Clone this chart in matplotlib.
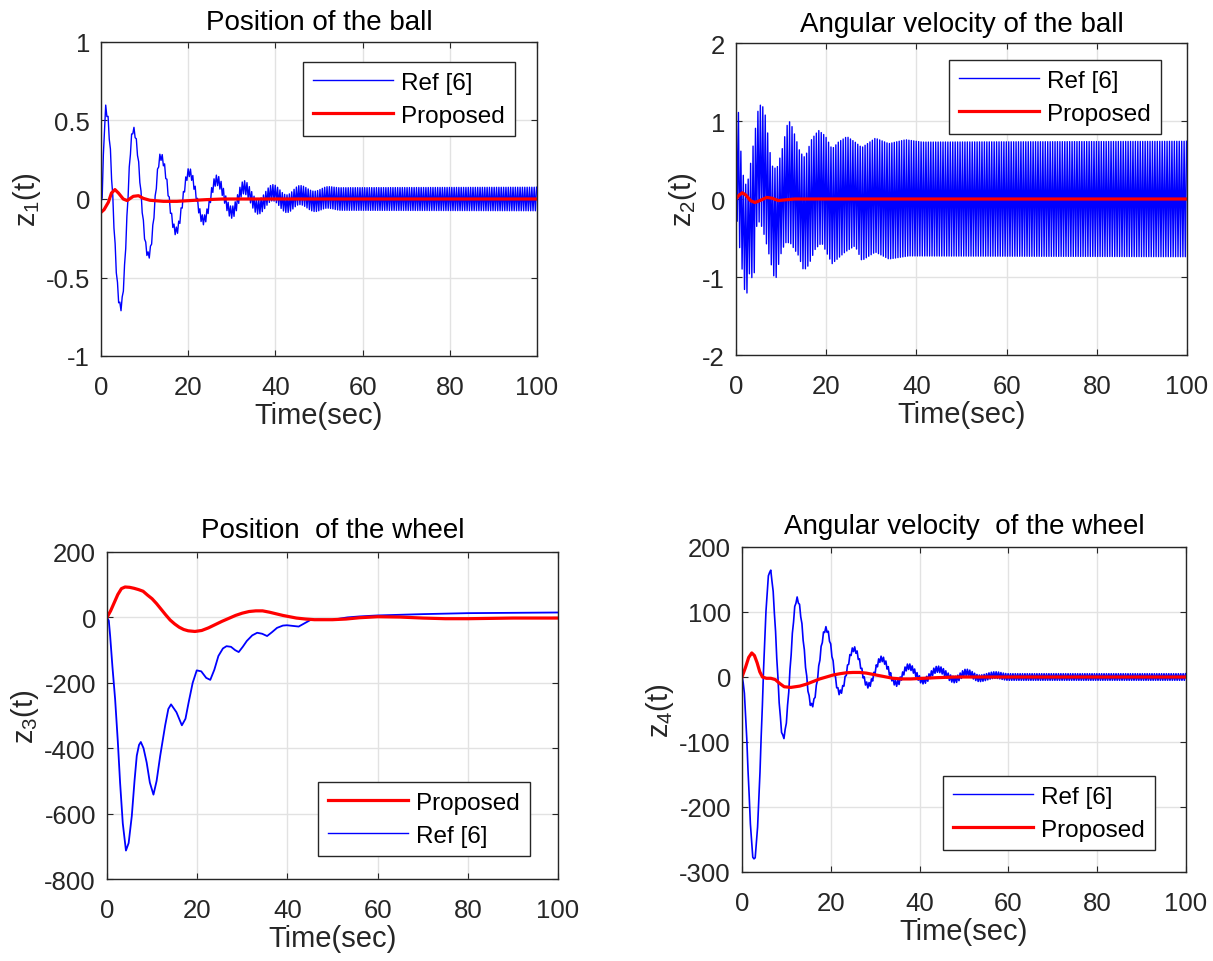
import numpy as np
import matplotlib
matplotlib.use("Agg")
import matplotlib.pyplot as plt
from matplotlib.lines import Line2D

# ---------------- data ----------------
x_ticks = [0, 20, 40, 60, 80, 100]
x_ticklabels = ["0", "20", "40", "60", "80", "100"]

# z1 : position of the ball
z1_yticks = [-1, -0.5, 0, 0.5, 1]
z1_yticklabels = ["-1", "-0.5", "0", "0.5", "1"]
z1_ref_ext_t = [0, 1.1, 4.5, 7.4, 10.9, 13.7, 17.2, 20.2, 23.5, 26.5, 30.0, 32.8, 36.0, 39.4, 42.6, 45.6, 49.0, 52.0, 55.0, 100.0]
z1_ref_ext_v = [-0.05, 0.57, -0.69, 0.44, -0.36, 0.27, -0.205, 0.17, -0.135, 0.12, -0.085, 0.075, -0.05, 0.04, -0.03, 0.025, -0.015, 0.01, 0.0, 0.0]
z1_ref_rip_t = [0, 8, 16, 25, 35, 45, 55, 100]
z1_ref_rip_a = [0.03, 0.02, 0.025, 0.03, 0.045, 0.06, 0.072, 0.075]
z1_prop_t = [0, 0.7, 1.7, 2.4, 3.2, 4.0, 5.1, 6.0, 7.4, 8.6, 9.7, 11.2, 14.3, 17.4, 20.4, 24.2, 28.0, 100.0]
z1_prop_v = [-0.085, -0.068, -0.02, 0.038, 0.06, 0.038, 0.0, -0.01, 0.017, 0.021, 0.004, -0.008, -0.015, -0.015, -0.01, -0.004, 0.0, 0.0]

# z2 : angular velocity of the ball
z2_yticks = [-2, -1, 0, 1, 2]
z2_yticklabels = ["-2", "-1", "0", "1", "2"]
z2_ref_up_t = [0, 0.67, 1.26, 2.0, 2.74, 3.5, 4.4, 5.0, 5.7, 6.4, 7.2, 7.9, 9.0, 10.1, 11.3, 12.0, 13.1, 14.2, 15.3, 16.8,
               18.3, 19.8, 21.3, 22.7, 24.6, 26.4, 27.9, 30.9, 33.9, 37.6, 41.3, 100.0]
z2_ref_up_v = [1.44, 1.03, 0.43, 0.17, 0.26, 0.56, 0.94, 1.18, 1.22, 1.11, 0.77, 0.43, 0.38, 0.60, 0.94, 1.0, 0.81, 0.60, 0.53, 0.77,
               0.88, 0.81, 0.64, 0.73, 0.80, 0.73, 0.66, 0.78, 0.71, 0.76, 0.73, 0.74]
z2_ref_lo_t = [0.15, 0.9, 2.2, 3.1, 3.9, 4.6, 5.3, 6.3, 7.2, 8.7, 9.8, 10.9, 12.0, 13.9, 15.0, 16.1, 17.6, 19.0, 21.3, 24.2,
               26.4, 27.9, 30.9, 33.9, 38.3, 100.0]
z2_ref_lo_v = [-0.21, -0.68, -1.31, -0.9, -1.11, -0.34, -0.28, -0.47, -0.68, -1.07, -0.73, -0.56, -0.56, -0.73, -0.92, -0.85, -0.64, -0.56, -0.83, -0.68,
               -0.6, -0.79, -0.68, -0.77, -0.73, -0.74]
z2_prop_t = [0, 0.7, 1.4, 2.2, 3.2, 4.2, 5.3, 6.8, 8.0, 9.4, 11.0, 13.0, 100.0]
z2_prop_v = [0.0, 0.05, 0.08, 0.05, -0.02, -0.045, -0.02, 0.02, 0.01, -0.02, -0.01, 0.0, 0.0]

# z3 : position of the wheel
z3_yticks = [-800, -600, -400, -200, 0, 200]
z3_yticklabels = ["-800", "-600", "-400", "-200", "0", "200"]
z3_ref_t = [0, 0.4, 0.7, 1.2, 1.8, 2.4, 2.9, 3.5, 4.2, 4.8, 5.5, 6.1, 6.6, 7.1, 7.5, 8.1, 8.8, 9.5, 10.3, 11.0,
            11.8, 12.9, 13.6, 14.2, 15.4, 16.6, 17.4, 18.1, 19.0, 19.9, 20.9, 22.0, 22.9, 23.8, 24.7, 25.7, 26.5, 27.5,
            28.4, 29.2, 30.1, 31.0, 32.2, 33.3, 34.4, 35.5, 36.6, 37.7, 39.0, 39.9, 41.2, 42.5, 43.8, 45.1, 47.0, 49.6,
            51.5, 53.3, 56.0, 60.0, 70.0, 80.0, 90.0, 100.0]
z3_ref_v = [0, -10, -57, -150, -250, -380, -505, -630, -713, -690, -607, -500, -423, -390, -381, -400, -444, -505, -542, -500,
            -423, -330, -280, -266, -290, -330, -310, -260, -200, -162, -165, -185, -191, -160, -118, -95, -88, -90,
            -100, -106, -90, -72, -55, -47, -50, -57, -45, -32, -25, -24, -26, -28, -18, -8, -7, -8,
            -4, 0, 3, 6, 10, 13, 14, 15]
z3_prop_t = [0, 0.8, 1.6, 2.4, 3.2, 4.0, 5.0, 6.0, 7.0, 8.0, 9.0, 10, 11, 12, 13, 14, 15, 16, 17, 18, 19.5, 21, 22.5,
             24, 25.5, 27, 28.5, 30, 31.5, 33, 34.5, 36, 37.5, 39, 40.5, 42, 44, 46, 48, 50, 53, 56, 60, 65, 70, 75,
             80, 90, 100]
z3_prop_v = [0, 20, 45, 70, 88, 93, 92, 89, 85, 80, 68, 57, 42, 25, 8, -8, -20, -30, -37, -41, -43, -40, -32,
             -22, -12, -3, 6, 13, 18, 20, 20, 16, 11, 6, 2, -2, -5, -7, -7, -7, -5, -1, 2, 1, -2, -4,
             -4, -2, -2]

# z4 : angular velocity of the wheel
z4_yticks = [-300, -200, -100, 0, 100, 200]
z4_yticklabels = ["-300", "-200", "-100", "0", "100", "200"]
z4_ref_ext_t = [0, 2.7, 6.3, 9.3, 12.4, 15.7, 18.9, 22.0, 25.2, 28.4, 31.4, 34.8, 37.5, 40.8, 44.1, 47.9, 50.5, 53.5, 57.0, 60.0, 100.0]
z4_ref_ext_v = [0, -282, 164, -93, 120, -44, 74, -24, 43, -13, 28, -10, 16, -6, 12, -4, 7, -2, 3, 0, 0]
z4_ref_rip_t = [0, 10, 30, 50, 100]
z4_ref_rip_a = [2, 3, 4, 5, 5]
z4_prop_t = [0, 0.8, 1.5, 2.2, 2.8, 3.4, 4.0, 4.6, 5.5, 6.5, 7.5, 8.5, 9.5, 11, 13, 14.5, 16, 17.5, 19, 20.5, 22,
             23.5, 25, 26.5, 28, 29.5, 31, 32.5, 34, 36, 38, 40.8, 44, 48, 100]
z4_prop_v = [0, 15, 30, 37, 33, 22, 8, 0, -2, -2, -4, -10, -15, -16, -14, -11, -7, -3, 0, 3, 5,
             6.5, 7, 7, 6, 4, 2, 0, -2, -3, -3, -2, -1, 0, 0]

ripple_half_period = 0.27  # seconds, read from the stripe spacing

# ---------------- helpers ----------------
def halfcos(ext_t, ext_v, t):
    ext_t = np.asarray(ext_t, float)
    ext_v = np.asarray(ext_v, float)
    i = np.clip(np.searchsorted(ext_t, t, side="right") - 1, 0, len(ext_t) - 2)
    t0, t1 = ext_t[i], ext_t[i + 1]
    v0, v1 = ext_v[i], ext_v[i + 1]
    s = np.clip((t - t0) / (t1 - t0), 0, 1)
    return v0 + (v1 - v0) * (1 - np.cos(np.pi * s)) / 2


t_grid = np.arange(0, 100 + 1e-9, ripple_half_period)
sign = np.where(np.arange(len(t_grid)) % 2 == 0, 1.0, -1.0)

z1_ref = halfcos(z1_ref_ext_t, z1_ref_ext_v, t_grid) + sign * np.interp(t_grid, z1_ref_rip_t, z1_ref_rip_a)
z2_ref = np.where(sign > 0, np.interp(t_grid, z2_ref_up_t, z2_ref_up_v), np.interp(t_grid, z2_ref_lo_t, z2_ref_lo_v))
z4_ref = halfcos(z4_ref_ext_t, z4_ref_ext_v, t_grid) + sign * np.interp(t_grid, z4_ref_rip_t, z4_ref_rip_a)

# ---------------- style ----------------
plt.rcParams.update({
    "font.family": ["Liberation Sans", "DejaVu Sans"],
    "mathtext.fontset": "custom",
    "mathtext.rm": "Liberation Sans",
    "mathtext.it": "Liberation Sans",
    "mathtext.default": "regular",
    "axes.unicode_minus": False,
})

W, H = 1213, 962
fig = plt.figure(figsize=(W / 100, H / 100), dpi=100)
DARK = "#262626"
BLUE = "#0000ff"
RED = "#ff0000"
LW_BLUE = 1.0
LW_RED = 2.3


def make_axes(l, t, r, b):
    ax = fig.add_axes([l / W, 1 - b / H, (r - l) / W, (b - t) / H])
    ax.grid(True, color="#e2e2e2", linewidth=1.0)
    ax.set_axisbelow(True)
    ax.tick_params(axis="both", direction="in", top=True, right=True, length=4.5, width=0.8,
                   color=DARK, labelsize=18.5, labelcolor=DARK)
    ax.tick_params(axis="x", pad=14)
    ax.tick_params(axis="y", pad=8)
    for sp in ax.spines.values():
        sp.set_color(DARK)
        sp.set_linewidth(1.0)
    ax.set_xlim(0, 100)
    ax.set_xticks(x_ticks)
    ax.set_xticklabels(x_ticklabels)
    return ax


def add_legend(ax, order, x, y):
    h = {"Ref [6]": Line2D([], [], color=BLUE, lw=LW_BLUE),
         "Proposed": Line2D([], [], color=RED, lw=LW_RED)}
    leg = ax.legend([h[k] for k in order], order, loc="upper left",
                    bbox_to_anchor=(x / W, 1 - y / H), bbox_transform=fig.transFigure,
                    borderaxespad=0, fontsize=17.5, frameon=True, fancybox=False,
                    edgecolor=DARK, framealpha=1, borderpad=0.4, labelspacing=0.45,
                    handlelength=3.3, handletextpad=0.35)
    leg.get_frame().set_linewidth(1.0)
    return leg


def finish(ax, title, ylabel, yticks, yticklabels, ylim, tpad):
    ax.set_ylim(*ylim)
    ax.set_yticks(yticks)
    ax.set_yticklabels(yticklabels)
    ax.set_title(title, fontsize=20, pad=tpad, color="black")
    ax.set_xlabel("Time(sec)", fontsize=21, labelpad=1, color=DARK)
    ax.set_ylabel(ylabel, fontsize=21, labelpad=2, color=DARK)


# top-left
ax1 = make_axes(101, 43, 537, 357)
ax1.plot(t_grid, z1_ref, color=BLUE, lw=LW_BLUE)
ax1.plot(z1_prop_t, z1_prop_v, color=RED, lw=LW_RED)
finish(ax1, "Position of the ball", "z$_1$(t)", z1_yticks, z1_yticklabels, (-1, 1), 9)
add_legend(ax1, ["Ref [6]", "Proposed"], 303, 63)

# top-right
ax2 = make_axes(736, 44, 1187, 356)
ax2.plot(t_grid, z2_ref, color=BLUE, lw=LW_BLUE)
ax2.plot(z2_prop_t, z2_prop_v, color=RED, lw=LW_RED)
finish(ax2, "Angular velocity of the ball", "z$_2$(t)", z2_yticks, z2_yticklabels, (-2, 2), 9)
add_legend(ax2, ["Ref [6]", "Proposed"], 949, 61)

# bottom-left
ax3 = make_axes(107, 553, 558, 880)
ax3.plot(z3_ref_t, z3_ref_v, color=BLUE, lw=LW_BLUE + 0.3)
ax3.plot(z3_prop_t, z3_prop_v, color=RED, lw=LW_RED)
finish(ax3, "Position  of the wheel", "z$_3$(t)", z3_yticks, z3_yticklabels, (-800, 200), 11)
add_legend(ax3, ["Proposed", "Ref [6]"], 318, 783)

# bottom-right
ax4 = make_axes(742, 548, 1186, 873)
ax4.plot(t_grid, z4_ref, color=BLUE, lw=LW_BLUE + 0.2)
ax4.plot(z4_prop_t, z4_prop_v, color=RED, lw=LW_RED)
finish(ax4, "Angular velocity  of the wheel", "z$_4$(t)", z4_yticks, z4_yticklabels, (-300, 200), 10)
add_legend(ax4, ["Ref [6]", "Proposed"], 943, 777)

fig.savefig("out.png", dpi=100)
